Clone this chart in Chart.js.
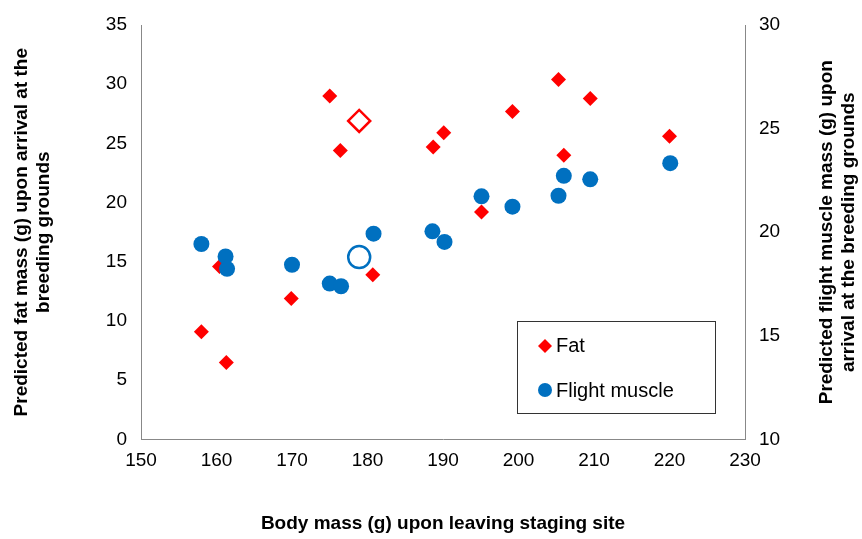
<!DOCTYPE html>
<html>
<head>
<meta charset="utf-8">
<script src="https://cdn.jsdelivr.net/npm/chart.js@4"></script>
<style>
  html, body { margin: 0; padding: 0; background: #fff; }
  #wrap { width: 862px; height: 539px; }
</style>
</head>
<body>
<div id="wrap"><canvas id="chart"></canvas></div>
<script>
// Body mass (g) upon leaving staging site
const fatMass = [158.0, 161.3, 160.4, 169.9, 175.0, 176.4, 180.7, 188.7, 190.1, 195.1, 199.2, 205.3, 206.0, 209.5, 220.0];
const fatValues = [9.1, 6.5, 14.6, 11.9, 29.0, 24.4, 13.9, 24.7, 25.9, 19.2, 27.7, 30.4, 24.0, 28.8, 25.6];
const muscleMass = [158.0, 161.2, 161.4, 170.0, 175.0, 176.5, 180.8, 188.6, 190.2, 195.1, 199.2, 205.3, 206.0, 209.5, 220.1];
const muscleValues = [19.43, 18.83, 18.23, 18.43, 17.52, 17.39, 19.93, 20.04, 19.53, 21.73, 21.23, 21.76, 22.72, 22.55, 23.33];
// open symbols
const openMass = [178.9];
const openFat = [26.9];
const openMuscle = [18.8];

const xTicks = [150, 160, 170, 180, 190, 200, 210, 220, 230];

const RED = "#ff0000";
const BLUE = "#0070c0";
const FONT = "'Liberation Sans', Arial, sans-serif";

function toPoints(xs, ys) {
  return xs.map((x, i) => ({ x: x, y: ys[i] }));
}

// Legend box and right-hand title drawn by hand
const extras = {
  id: "extras",
  afterDraw(chart) {
    const ctx = chart.ctx;
    const x = 517, y = 321, w = 198, h = 92;
    ctx.save();
    ctx.fillStyle = "#fff";
    ctx.fillRect(x, y, w, h);
    ctx.strokeStyle = "#333";
    ctx.lineWidth = 1;
    ctx.strokeRect(x + 0.5, y + 0.5, w, h);
    ctx.font = "20px " + FONT;
    ctx.textBaseline = "middle";
    ctx.fillStyle = RED;
    ctx.beginPath();
    ctx.moveTo(545, 339); ctx.lineTo(552, 346); ctx.lineTo(545, 353); ctx.lineTo(538, 346);
    ctx.closePath(); ctx.fill();
    ctx.fillStyle = "#000";
    ctx.fillText("Fat", 556, 346);
    ctx.fillStyle = BLUE;
    ctx.beginPath(); ctx.arc(545, 390, 7, 0, Math.PI * 2); ctx.fill();
    ctx.fillStyle = "#000";
    ctx.fillText("Flight muscle", 556, 391);

    // right axis title, reading bottom to top
    const area = chart.chartArea;
    ctx.translate(838, (area.top + area.bottom) / 2);
    ctx.rotate(-Math.PI / 2);
    ctx.font = "bold 19px " + FONT;
    ctx.textAlign = "center";
    ctx.fillText("Predicted flight muscle mass (g) upon", 0, -11);
    ctx.fillText("arrival at the breeding grounds", 0, 11);
    ctx.restore();
  }
};

const tickFont = { family: FONT, size: 19 };

new Chart(document.getElementById("chart"), {
  type: "scatter",
  data: {
    datasets: [
      {
        label: "Flight muscle",
        data: toPoints(muscleMass, muscleValues),
        yAxisID: "y1",
        pointStyle: "circle",
        pointRadius: 8,
        backgroundColor: BLUE,
        borderWidth: 0,
      },
      {
        label: "Fat",
        data: toPoints(fatMass, fatValues),
        yAxisID: "y",
        pointStyle: "rectRot",
        pointRadius: 7.5,
        backgroundColor: RED,
        borderWidth: 0,
      },
      {
        label: "Muscle (open)",
        data: toPoints(openMass, openMuscle),
        yAxisID: "y1",
        pointStyle: "circle",
        pointRadius: 11,
        backgroundColor: "#fff",
        borderColor: BLUE,
        borderWidth: 2.5,
      },
      {
        label: "Fat (open)",
        data: toPoints(openMass, openFat),
        yAxisID: "y",
        pointStyle: "rectRot",
        pointRadius: 11,
        backgroundColor: "#fff",
        borderColor: RED,
        borderWidth: 2.5,
      },
    ],
  },
  options: {
    responsive: true,
    maintainAspectRatio: false,
    animation: false,
    layout: { padding: { left: 6, right: 0, top: 25, bottom: 0 } },
    plugins: { legend: { display: false }, tooltip: { enabled: false } },
    scales: {
      x: {
        type: "linear",
        min: 150,
        max: 230,
        afterBuildTicks: (axis) => { axis.ticks = xTicks.map((v) => ({ value: v })); },
        grid: { display: false, drawTicks: true, tickLength: 6, tickColor: "#888" },
        border: { color: "#888" },
        ticks: { color: "#000", font: tickFont, padding: 4 },
        title: {
          display: true,
          text: "Body mass (g) upon leaving staging site",
          color: "#000",
          font: { family: FONT, size: 19, weight: "bold" },
          padding: { top: 36, bottom: 4 },
        },
      },
      y: {
        position: "left",
        min: 0,
        max: 35,
        afterFit: (axis) => { axis.width = 135; },
        ticks: { stepSize: 5, color: "#000", font: tickFont, padding: 8 },
        grid: { display: false, drawTicks: true, tickLength: 6, tickColor: "#888" },
        border: { color: "#888" },
        title: {
          display: true,
          text: ["Predicted fat mass (g) upon arrival at the", "breeding grounds"],
          color: "#000",
          font: { family: FONT, size: 19, weight: "bold" },
          padding: { bottom: 14 },
        },
      },
      y1: {
        position: "right",
        min: 10,
        max: 30,
        afterFit: (axis) => { axis.width = 117; },
        ticks: { stepSize: 5, color: "#000", font: tickFont, padding: 8 },
        grid: { display: false, drawTicks: true, tickLength: 6, tickColor: "#888" },
        border: { color: "#888" },
      },
    },
  },
  plugins: [extras],
});
</script>
</body>
</html>
